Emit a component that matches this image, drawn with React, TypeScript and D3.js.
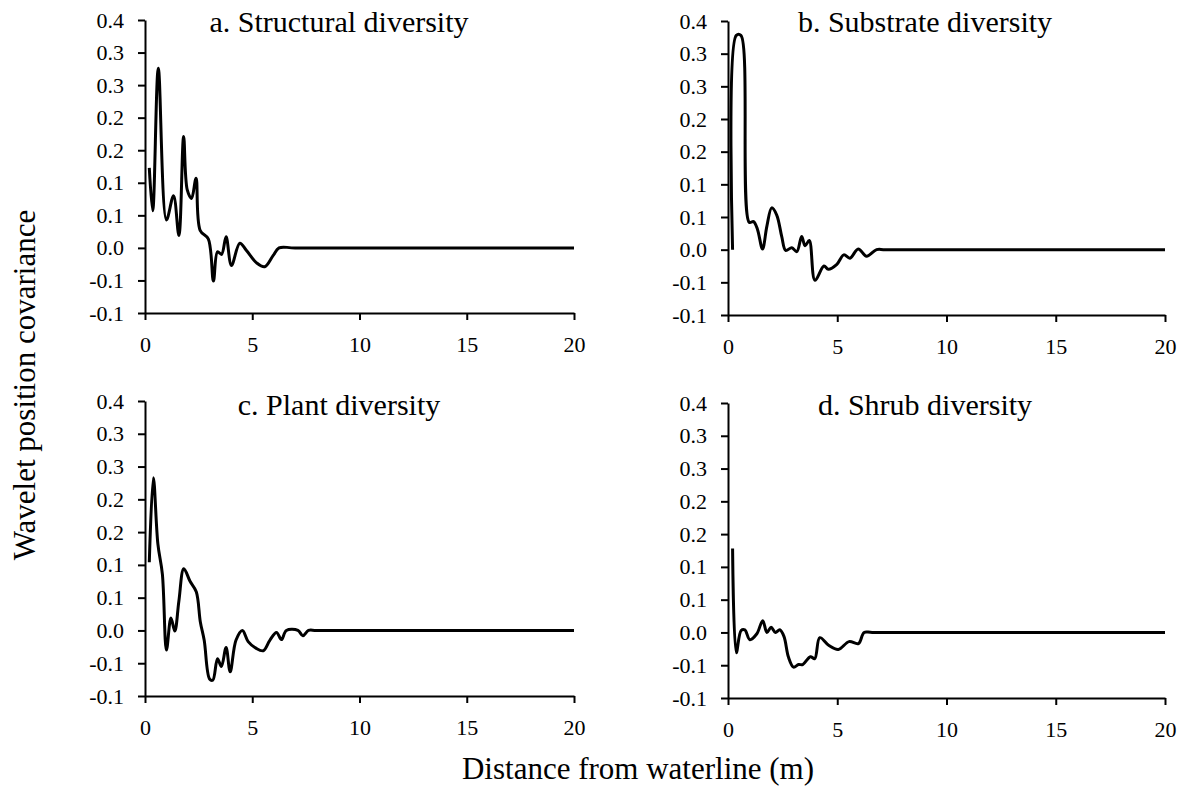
import React, { useEffect, useRef } from 'react';
import * as d3 from 'd3';

// axis setup
const xTicks = [0, 5, 10, 15, 20];
const yTicks = [-0.1, -0.05, 0, 0.05, 0.1, 0.15, 0.2, 0.25, 0.3, 0.35];
const yTickLabels = ['-0.1', '-0.1', '0.0', '0.1', '0.1', '0.2', '0.2', '0.3', '0.3', '0.4'];

const panelTitles = ['a. Structural diversity', 'b. Substrate diversity', 'c. Plant diversity', 'd. Shrub diversity'];

// a. Structural diversity
const structuralX = [0.2, 0.36, 0.62, 1.0, 1.33, 1.58, 1.8, 1.97, 2.17, 2.38, 2.57, 2.95, 3.19, 3.38, 3.57, 3.78, 4.03, 4.42, 4.73, 5.2, 5.58, 5.97, 6.25, 7.0, 20];
const structuralY = [0.123, 0.057, 0.276, 0.043, 0.08, 0.019, 0.171, 0.089, 0.076, 0.107, 0.027, 0.014, -0.051, -0.006, -0.01, 0.017, -0.027, 0.007, -0.004, -0.023, -0.029, -0.012, 0, 0, 0];

// b. Substrate diversity
const substrateX = [0.21, 0.38, 0.59, 0.97, 1.17, 1.35, 1.58, 1.78, 2.0, 2.23, 2.46, 2.64, 2.92, 3.15, 3.37, 3.53, 3.72, 3.98, 4.39, 4.59, 4.97, 5.3, 5.58, 5.96, 6.34, 6.8, 7.2, 20];
const substrateY = [0, 0.328, 0.328, 0.042, 0.043, 0.031, 0.001, 0.036, 0.064, 0.053, 0.02, -0.001, 0.003, -0.003, 0.02, 0.006, 0.014, -0.047, -0.025, -0.03, -0.023, -0.008, -0.013, 0.001, -0.01, 0, 0, 0];

// c. Plant diversity
const plantX = [0.2, 0.39, 0.6, 0.81, 1.0, 1.21, 1.39, 1.58, 1.81, 2.1, 2.39, 2.58, 2.76, 3.01, 3.16, 3.38, 3.56, 3.78, 3.97, 4.24, 4.54, 4.81, 5.17, 5.51, 5.82, 6.13, 6.36, 6.59, 7.13, 7.36, 7.62, 8.0, 20];
const plantY = [0.104, 0.233, 0.132, 0.086, -0.03, 0.019, -0.001, 0.045, 0.094, 0.075, 0.059, 0.013, -0.015, -0.074, -0.076, -0.043, -0.055, -0.026, -0.063, -0.015, 0, -0.017, -0.027, -0.031, -0.015, -0.003, -0.014, 0, 0, -0.008, 0, 0, 0];

// d. Shrub diversity
const shrubX = [0.21, 0.38, 0.6, 0.77, 1.0, 1.32, 1.59, 1.78, 1.97, 2.17, 2.37, 2.56, 2.77, 3.0, 3.23, 3.42, 3.77, 3.97, 4.2, 4.62, 5.05, 5.54, 5.97, 6.23, 6.6, 20];
const shrubY = [0.128, -0.031, 0.003, 0.004, -0.011, -0.002, 0.018, 0.0, 0.008, 0.0, 0.004, -0.006, -0.038, -0.053, -0.049, -0.049, -0.037, -0.04, -0.008, -0.02, -0.026, -0.014, -0.017, 0, 0, 0];

const seriesX = [structuralX, substrateX, plantX, shrubX];
const seriesY = [structuralY, substrateY, plantY, shrubY];

// panel frames (pixels)
const frames = [
  { left: 145, right: 574, top: 20, bottom: 313, titleX: 339, titleY: 32 },
  { left: 728, right: 1165, top: 21, bottom: 315, titleX: 925, titleY: 32 },
  { left: 145, right: 574, top: 401, bottom: 696, titleX: 339, titleY: 415 },
  { left: 728, right: 1165, top: 403, bottom: 698, titleX: 925, titleY: 415 },
];

const FONT = '"Liberation Serif", "Times New Roman", serif';

export default function App() {
  const svgRef = useRef<SVGSVGElement>(null);

  useEffect(() => {
    if (!svgRef.current) return;
    const svg = d3.select(svgRef.current);
    svg.selectAll('*').remove();

    frames.forEach((f, i) => {
      const x = d3.scaleLinear().domain([0, 20]).range([f.left, f.right]);
      const y = d3.scaleLinear().domain([-0.1, 0.35]).range([f.bottom, f.top]);
      const g = svg.append('g');

      const pts = seriesX[i].map((v, k) => [v, seriesY[i][k]] as [number, number]);
      const line = d3.line<[number, number]>()
        .x(d => x(d[0]))
        .y(d => y(d[1]))
        .curve(d3.curveCatmullRom.alpha(0.5));

      g.append('path')
        .datum(pts)
        .attr('fill', 'none')
        .attr('stroke', '#000')
        .attr('stroke-width', 3)
        .attr('stroke-linejoin', 'round')
        .attr('d', line);

      // axes
      g.append('g')
        .attr('transform', `translate(${f.left},0)`)
        .call(d3.axisLeft(y).tickValues(yTicks).tickSize(7).tickSizeOuter(0).tickPadding(14)
          .tickFormat((d, k) => yTickLabels[k]))
        .call(a => a.selectAll('text').attr('fill', '#000').style('font-family', FONT).style('font-size', '22px'))
        .call(a => a.selectAll('line').attr('stroke', '#000').attr('stroke-width', 2))
        .call(a => a.select('.domain').attr('stroke', '#000').attr('stroke-width', 2));

      g.append('g')
        .attr('transform', `translate(0,${f.bottom})`)
        .call(d3.axisBottom(x).tickValues(xTicks).tickSize(7).tickSizeOuter(0).tickPadding(16)
          .tickFormat(d3.format('d')))
        .call(a => a.selectAll('text').attr('fill', '#000').style('font-family', FONT).style('font-size', '22px'))
        .call(a => a.selectAll('line').attr('stroke', '#000').attr('stroke-width', 2))
        .call(a => a.select('.domain').attr('stroke', '#000').attr('stroke-width', 2));

      g.append('text')
        .attr('x', f.titleX).attr('y', f.titleY)
        .attr('text-anchor', 'middle')
        .style('font-family', FONT).style('font-size', '30px')
        .text(panelTitles[i]);
    });

    svg.append('text')
      .attr('transform', 'translate(35,385) rotate(-90)')
      .attr('text-anchor', 'middle')
      .style('font-family', FONT).style('font-size', '31px')
      .text('Wavelet position covariance');

    svg.append('text')
      .attr('x', 638).attr('y', 779)
      .attr('text-anchor', 'middle')
      .style('font-family', FONT).style('font-size', '31px')
      .text('Distance from waterline (m)');
  }, []);

  return (
    <svg
      ref={svgRef}
      width={1189}
      height={792}
      style={{ position: 'absolute', left: 0, top: 0, background: '#fff' }}
    />
  );
}
